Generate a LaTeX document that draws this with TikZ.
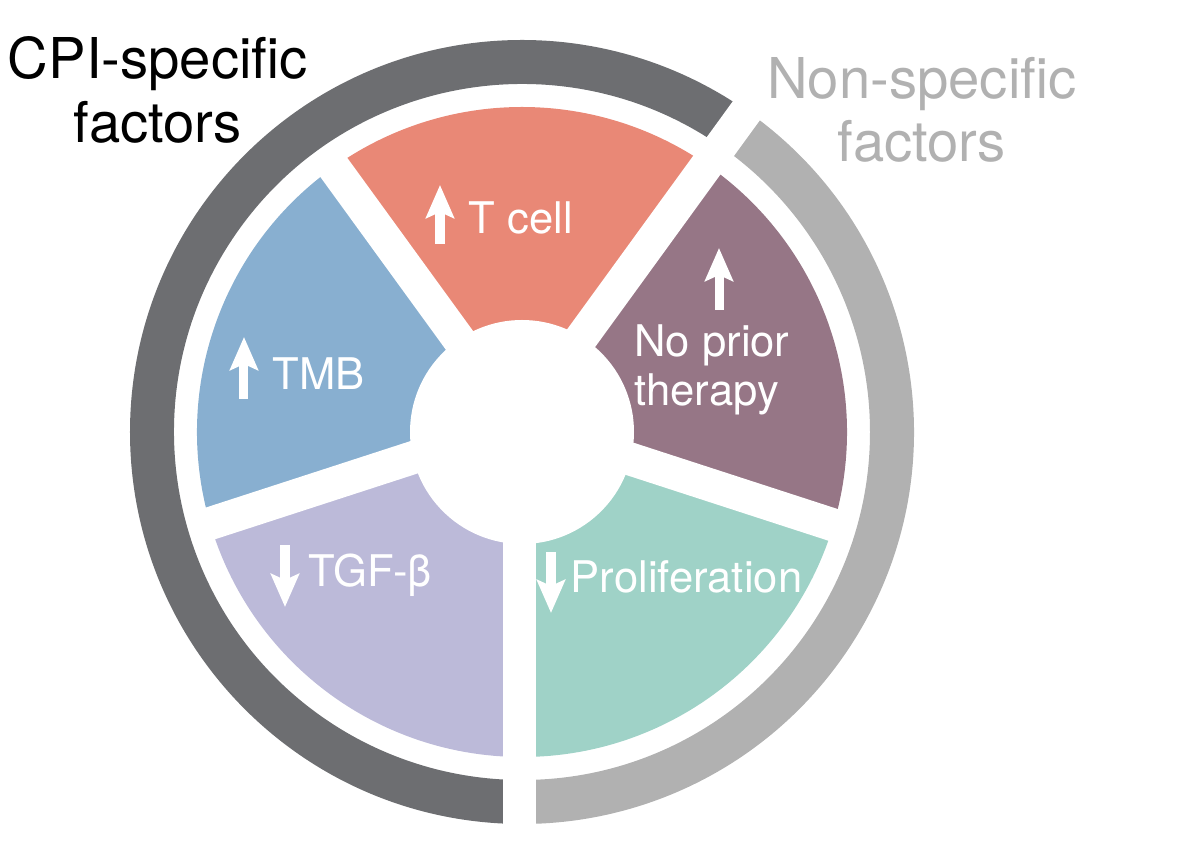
\documentclass[tikz,border=0pt]{standalone}
\usepackage{fontspec}
\setmainfont{TeX Gyre Heros}
\usepackage{xcolor}
\usetikzlibrary{arrows.meta, positioning}
\definecolor{tcellred}{HTML}{E98876}
\definecolor{therapypurple}{HTML}{967686}
\definecolor{prolifgreen}{HTML}{9FD2C7}
\definecolor{tgflilac}{HTML}{BCBAD9}
\definecolor{tmbblue}{HTML}{88AFD0}
\definecolor{cpigrey}{HTML}{6D6E71}
\definecolor{nonspgrey}{HTML}{B1B1B1}

\tikzset{
    wedgelabel/.style={text=white, font=\fontsize{12.4}{13.8}\selectfont, align=center, inner sep=0pt},
    ringlabel/.style={font=\fontsize{16}{18}\selectfont, align=center, inner sep=0pt},
    uparrow/.style={draw=white, line width=.09cm, -{Stealth[length=.33cm, width=.28cm, inset=.06cm]}},
}

\begin{document}
\begin{tikzpicture}[x=.01cm,y=.01cm]
        \path[use as bounding box] (-522,432) rectangle (678,-432);
        % outer ring
        \fill[cpigrey] (270:392) arc (270:54:392) -- (54:348) arc (54:270:348) -- cycle;
        \fill[nonspgrey] (54:392) arc (54:-90:392) -- (-90:348) arc (-90:54:348) -- cycle;
        % wedges
        \foreach \wcolor/\wstart/\wend in {tcellred/54/126, therapypurple/-18/54, prolifgreen/-90/-18,
                tgflilac/198/270, tmbblue/126/198} {
            \fill[\wcolor] (\wstart:112) -- (\wstart:325) arc (\wstart:\wend:325) -- (\wend:112) -- cycle;
        }
        % white gaps
        \coordinate (hub) at (-2.5,9);
        \foreach \spoke/\slen in {54/420, 126/335, 198/335, 270/430, 342/335} {
            \draw[white, line width=.33cm] (hub) -- ++(\spoke:\slen);
        }
        \fill[white] (0,0) circle (112);

        \node[ringlabel] (cpi) at (-364,342) {CPI-specific\\factors};
        \node[ringlabel, text=nonspgrey] (nonsp) at (400,322) {Non-specific\\factors};

        \node[wedgelabel, anchor=west] (tcell) at (-54,214) {T cell};
        \node[wedgelabel, align=left] (noprior) at (190,62) {No prior\\therapy};
        \node[wedgelabel, anchor=west] (tmb) at (-250,58) {TMB};
        \node[wedgelabel, anchor=west] (tgf) at (-214,-143) {TGF-β};
        \node[wedgelabel, anchor=west] (prolif) at (48,-145) {Proliferation};

        \coordinate (tcellfoot) at (-82,188);
        \draw[uparrow] (tcellfoot) -- ++(0,59);
        \coordinate (priorfoot) at (197,122);
        \draw[uparrow] (priorfoot) -- ++(0,62);
        \coordinate (tmbfoot) at (-278,33);
        \draw[uparrow] (tmbfoot) -- ++(0,62);
        \coordinate (tgffoot) at (-237,-113);
        \draw[uparrow] (tgffoot) -- ++(0,-62);
        \coordinate (prolifffoot) at (29,-120);
        \draw[uparrow] (prolifffoot) -- ++(0,-61);
\end{tikzpicture}
\end{document}
